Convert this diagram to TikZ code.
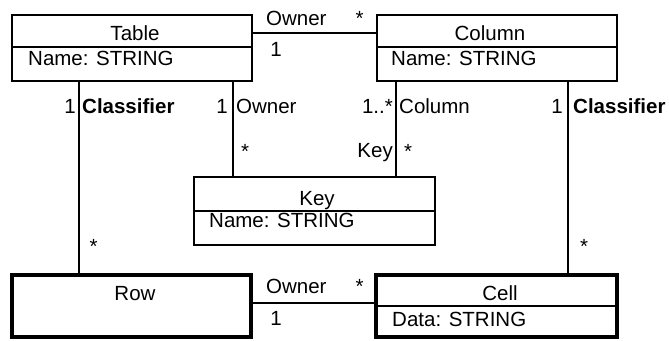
\documentclass[tikz,border=0pt]{standalone}
\usepackage{fontspec}
\setmainfont{Liberation Sans}
\begin{document}
\begin{tikzpicture}[x=1pt,y=-1pt,
  font=\fontsize{20.5}{24}\selectfont,
  umlclass/.style={draw, line width=1.2pt, rectangle, inner sep=0pt},
  heavyclass/.style={draw, line width=4pt, rectangle, inner sep=0pt},
  assoc/.style={draw, line width=1.2pt},
  divider/.style={line width=1.2pt},
  lbl/.style={inner sep=0pt, anchor=base west},
  lblc/.style={inner sep=0pt, anchor=base},
  lble/.style={inner sep=0pt, anchor=base east}]
\useasboundingbox (0,0) rectangle (669,340);

% class boxes
\node[umlclass, minimum width=240pt, minimum height=66pt] (table) at (132,48) {};
\node[umlclass, minimum width=240pt, minimum height=66pt] (column) at (497,48) {};
\node[umlclass, minimum width=241pt, minimum height=68pt] (key) at (314.5,211) {};
\node[heavyclass, minimum width=239pt, minimum height=62pt] (row) at (131.5,306) {};
\node[heavyclass, minimum width=241pt, minimum height=62pt] (cell) at (496.5,306) {};

% compartment dividers
\draw[divider] (table.west |- 0,47) -- (table.east |- 0,47);
\draw[divider] (column.west |- 0,47) -- (column.east |- 0,47);
\draw[divider] (key.west |- 0,211) -- (key.east |- 0,211);
\draw[divider] (cell.west |- 0,306) -- (cell.east |- 0,306);

% class names and attributes
\node[lblc] (tname) at (135,40) {Table};
\node[lbl] (tattr) at (28,65) {Name: STRING};
\node[lblc] (cname) at (490,40) {Column};
\node[lbl] (cattr) at (391,65) {Name: STRING};
\node[lblc] (kname) at (317,205) {Key};
\node[lbl] (kattr) at (209,227) {Name: STRING};
\node[lblc] (rname) at (135,300) {Row};
\node[lblc] (clname) at (500,300) {Cell};
\node[lbl] (clattr) at (392,326) {Data: STRING};

% associations
\draw[assoc] (table.east |- 0,33) -- (column.west |- 0,33);
\draw[assoc] (row.east |- 0,303) -- (cell.west |- 0,303);
\draw[assoc] (table.south -| 79,0) -- (row.north -| 79,0);
\draw[assoc] (table.south -| 233,0) -- (key.north -| 233,0);
\draw[assoc] (column.south -| 396,0) -- (key.north -| 396,0);
\draw[assoc] (column.south -| 568,0) -- (cell.north -| 568,0);

% role names and multiplicities
\node[lbl] (o1) at (266,25) {Owner};
\node[lblc] (m1a) at (359.5,25) {*};
\node[lblc] (m1b) at (276,56) {1};

\node[lblc] (m2a) at (70,113) {1};
\node[lbl] (r2) at (82,113) {\bfseries Classifier};
\node[lblc] (m2b) at (93.5,253) {*};

\node[lblc] (m3a) at (222,113) {1};
\node[lbl] (r3) at (236,113) {Owner};
\node[lblc] (m3b) at (245,158) {*};

\node[lble] (m4a) at (393,113) {1..*};
\node[lbl] (r4) at (399,113) {Column};
\node[lble] (r4b) at (393,157) {Key};
\node[lblc] (m4b) at (408,158) {*};

\node[lblc] (m5a) at (557,113) {1};
\node[lbl] (r5) at (573,113) {\bfseries Classifier};
\node[lblc] (m5b) at (584,253) {*};

\node[lbl] (o6) at (266,293) {Owner};
\node[lblc] (m6a) at (359.5,293) {*};
\node[lblc] (m6b) at (276,325) {1};
\end{tikzpicture}
\end{document}
